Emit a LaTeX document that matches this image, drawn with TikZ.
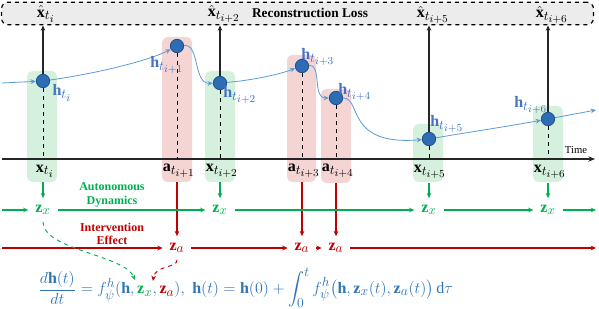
\documentclass[tikz,border=0pt]{standalone}
\usepackage{amsmath}
\usepackage{fontspec}
\setmainfont{Liberation Serif}
\DeclareMathSizes{12}{12}{9.8}{7.8}
\DeclareMathSizes{10.95}{10.95}{9}{7}
\usetikzlibrary{arrows.meta}
\definecolor{gfill}{RGB}{214,240,222}
\definecolor{rfill}{RGB}{245,212,212}
\definecolor{dotblue}{RGB}{46,109,182}
\definecolor{dotedge}{RGB}{30,78,140}
\definecolor{curveblue}{RGB}{91,155,213}
\definecolor{hblue}{RGB}{68,114,196}
\definecolor{ggreen}{RGB}{0,176,80}
\definecolor{rred}{RGB}{192,0,0}
\definecolor{eqblue}{RGB}{46,117,182}
\definecolor{boxgray}{RGB}{236,236,236}
\tikzset{
  strip/.style={rounded corners=4pt},
  dot/.style={circle, fill=dotblue, draw=dotedge, line width=0.6pt, minimum size=10pt, inner sep=0pt},
  curve/.style={curveblue, line width=0.6pt, -{Stealth[length=4pt,width=3.5pt]}},
  hlab/.style={text=hblue, font=\large, inner sep=1pt},
  tlab/.style={font=\large, inner sep=2pt},
  uparrow/.style={black!85, line width=0.8pt, -{Stealth[length=4pt,width=3.5pt]}},
  dropline/.style={black, dashed, line width=0.6pt},
  zx/.style={text=ggreen, font=\large, inner sep=5pt},
  za/.style={text=rred, font=\large, inner sep=5pt},
  garrow/.style={ggreen, line width=0.8pt, -{Stealth[length=4pt,width=3.5pt]}},
  rarrow/.style={rred, line width=0.8pt, -{Stealth[length=4pt,width=3.5pt]}},
  gdash/.style={ggreen, dashed, line width=0.7pt, -{Stealth[length=4pt,width=3.5pt]}},
  rdash/.style={rred, dashed, line width=0.7pt, -{Stealth[length=4pt,width=3.5pt]}},
}
\begin{document}
\begin{tikzpicture}[x=0.75pt,y=-0.75pt]
\useasboundingbox (0,0) rectangle (599,309);
% strips
\fill[gfill, strip] (27,71) rectangle (57,182);
\fill[rfill, strip] (162,37) rectangle (192,182);
\fill[gfill, strip] (205,71) rectangle (235,182);
\fill[rfill, strip] (287,55) rectangle (316,182);
\fill[rfill, strip] (321,89) rectangle (351,183);
\fill[gfill, strip] (413,124) rectangle (443,182);
\fill[gfill, strip] (533,106) rectangle (563,182);
% loss box
\node[draw, dashed, line width=0.9pt, fill=boxgray, rounded corners=5pt, minimum width=444pt, minimum height=17pt, inner sep=0pt] (loss) at (297.5,13.5) {};
\node[font=\bfseries] (losst) at (310,13) {Reconstruction Loss};
% axis
\coordinate (axL) at (2,159);
\coordinate (axR) at (595,159);
\draw[line width=1.1pt, black!85, -{Stealth[length=5pt,width=4pt]}] (axL) -- (axR);
\node[font=\footnotesize] (time) at (576,150) {Time};
% dots
\node[dot] (d1) at (43,81) {};
\node[dot] (d2) at (177,46) {};
\node[dot] (d3) at (220,83) {};
\node[dot] (d4) at (302,66) {};
\node[dot] (d5) at (336,98) {};
\node[dot] (d6) at (429,139) {};
\node[dot] (d7) at (548,119) {};
% dashed drops
\foreach \d in {d1,d2,d3,d4,d5,d6,d7} \draw[dropline] (\d.south) -- (\d |- axL);
% up arrows
\foreach \d in {d1,d3,d6,d7} \draw[uparrow] (\d.north) -- (\d |- loss.south);
% hat labels
\node (xh1) at (46,14) {\large$\hat{\mathbf{x}}_{t_i}$};
\node (xh3) at (224,14) {\large$\hat{\mathbf{x}}_{t_{i+2}}$};
\node (xh6) at (433,15) {\large$\hat{\mathbf{x}}_{t_{i+5}}$};
\node (xh7) at (552,15) {\large$\hat{\mathbf{x}}_{t_{i+6}}$};
% curve
\coordinate (cs) at (2,83);
\coordinate (ce) at (596,110);
\draw[curve] (cs) -- (d1);
\draw[curve] (d1) .. controls (100,73) and (150,60) .. (d2);
\draw[curve] (d2) .. controls (200,44) and (193,84) .. (d3);
\draw[curve] (d3) .. controls (255,80) and (280,74) .. (d4);
\draw[curve] (d4) .. controls (322,64) and (312,98) .. (d5);
\draw[curve] (d5) .. controls (362,98) and (345,146) .. (d6);
\draw[curve] (d6) .. controls (470,132) and (510,126) .. (d7);
\draw[curve] (d7) -- (ce);
% h labels
\node[hlab] (h1) at (62,93) {$\mathbf{h}_{t_i}$};
\node[hlab] (h2) at (167,65) {$\mathbf{h}_{t_{i+1}}$};
\node[hlab] (h3) at (240,95) {$\mathbf{h}_{t_{i+2}}$};
\node[hlab] (h4) at (318,57) {$\mathbf{h}_{t_{i+3}}$};
\node[hlab] (h5) at (355,92) {$\mathbf{h}_{t_{i+4}}$};
\node[hlab] (h6) at (447,124) {$\mathbf{h}_{t_{i+5}}$};
\node[hlab] (h7) at (531,105) {$\mathbf{h}_{t_{i+6}}$};
% axis labels
\node[tlab] (x1) at (45,171) {$\mathbf{x}_{t_i}$};
\node[tlab] (a2) at (179,171) {$\mathbf{a}_{t_{i+1}}$};
\node[tlab] (x3) at (222,171) {$\mathbf{x}_{t_{i+2}}$};
\node[tlab] (a4) at (304,171) {$\mathbf{a}_{t_{i+3}}$};
\node[tlab] (a5) at (338,171) {$\mathbf{a}_{t_{i+4}}$};
\node[tlab] (x6) at (430,172) {$\mathbf{x}_{t_{i+5}}$};
\node[tlab] (x7) at (550,172) {$\mathbf{x}_{t_{i+6}}$};
% z nodes
\node[zx] (zx1) at (43,210) {$\mathbf{z}_x$};
\node[zx] (zx3) at (220,210) {$\mathbf{z}_x$};
\node[zx] (zx6) at (429,210) {$\mathbf{z}_x$};
\node[zx] (zx7) at (548,210) {$\mathbf{z}_x$};
\node[za] (za2) at (177,248) {$\mathbf{z}_a$};
\node[za] (za4) at (302,248) {$\mathbf{z}_a$};
\node[za] (za5) at (336,248) {$\mathbf{z}_a$};
% vertical arrows
\draw[garrow] (43,182) -- (zx1);
\draw[garrow] (220,182) -- (zx3);
\draw[garrow] (429,183) -- (zx6);
\draw[garrow] (548,183) -- (zx7);
\draw[rarrow] (177,182) -- (za2);
\draw[rarrow] (302,182) -- (za4);
\draw[rarrow] (336,183) -- (za5);
% z_x row
\coordinate (zxL) at (2,210);
\coordinate (zxR) at (596,210);
\draw[garrow] (zxL) -- (zx1);
\draw[garrow] (zx1) -- (zx3);
\draw[garrow] (zx3) -- (zx6);
\draw[garrow] (zx6) -- (zx7);
\draw[garrow] (zx7) -- (zxR);
% z_a row
\coordinate (zaL) at (2,248);
\coordinate (zaR) at (596,248);
\draw[rarrow] (zaL) -- (za2);
\draw[rarrow] (za2) -- (za4);
\draw[rarrow] (za4) -- (za5);
\draw[rarrow] (za5) -- (zaR);
% row texts
\node[text=ggreen, font=\small\bfseries, align=center, inner sep=0pt] (auto) at (112,195) {Autonomous\\[-1pt]Dynamics};
\node[text=rred, font=\small\bfseries, align=center, inner sep=0pt] (interv) at (112,234) {Intervention\\[-1pt]Effect};
% equations
\node[anchor=west, text=eqblue, inner sep=0pt] (eq1) at (38,288) {\large$\displaystyle \frac{d\mathbf{h}(t)}{dt} = f_\psi^h(\mathbf{h},{\color{ggreen}\mathbf{z}_x},{\color{rred}\mathbf{z}_a}),$};
\node[anchor=west, text=eqblue, inner sep=0pt] (eq2) at (192,288) {\large$\displaystyle \mathbf{h}(t)=\mathbf{h}(0)+\int_0^t f_\psi^h\big(\mathbf{h},\mathbf{z}_x(t),\mathbf{z}_a(t)\big)\,\mathrm{d}\tau$};
% dashed links
\coordinate (eqzx) at (135,280);
\coordinate (eqza) at (153,281);
\draw[gdash] (zx1.south) .. controls (43,250) and (125,255) .. (eqzx);
\draw[rdash] (za2.south) .. controls (178,268) and (155,265) .. (eqza);
\end{tikzpicture}
\end{document}
